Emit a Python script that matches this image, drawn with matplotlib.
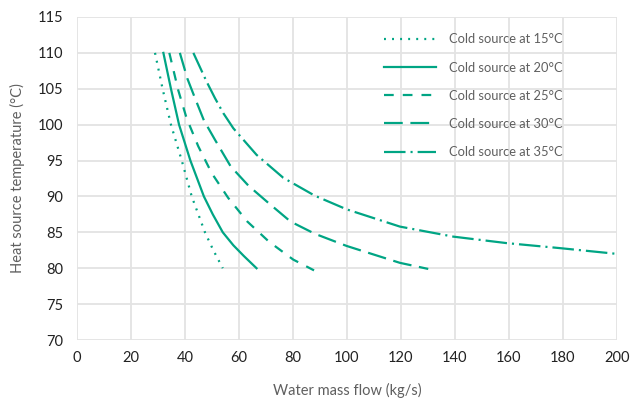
import matplotlib.pyplot as plt

plt.rcParams['font.family'] = ['Lato', 'DejaVu Sans']
plt.rcParams['lines.scale_dashes'] = False

# data
labels = ["Cold source at 15°C", "Cold source at 20°C", "Cold source at 25°C",
          "Cold source at 30°C", "Cold source at 35°C"]

flow_15 = [28.9, 31.7, 34.8, 38.8, 42.5, 47.4, 50.5, 54.0]
temp_15 = [110, 105, 100, 95, 90, 85, 82.5, 80]

flow_20 = [32.0, 34.8, 37.8, 42.0, 47.0, 50.3, 54.0, 57.9, 61.8, 66.5]
temp_20 = [110, 105, 100, 95, 90, 87.5, 85, 83.2, 81.7, 80]

flow_25 = [34.2, 37.5, 40.6, 44.9, 49.9, 56.0, 63.1, 71.1, 80.1, 87.8]
temp_25 = [110, 104.8, 100.9, 97.0, 93.25, 89.8, 86.5, 83.7, 81.2, 79.7]

flow_30 = [38.1, 40.9, 43.7, 47.0, 51.1, 56.9, 63.5, 71.2, 79.1, 88.1, 99.9, 119.6, 130.1]
temp_30 = [110, 106.4, 103.7, 100.6, 97.9, 94.2, 91.5, 89.0, 86.5, 84.8, 83.1, 80.75, 79.9]

flow_35 = [43.1, 48.0, 51.1, 54.2, 57.9, 66.5, 76.4, 88.1, 99.9,
           119.6, 139.4, 159.1, 178.9, 199.9]
temp_35 = [110, 106.0, 103.7, 101.6, 99.5, 95.8, 92.6, 90.1, 88.2,
           85.8, 84.4, 83.5, 82.8, 82.0]

series = [(flow_15, temp_15), (flow_20, temp_20), (flow_25, temp_25),
          (flow_30, temp_30), (flow_35, temp_35)]
dashes = [(1.4, 4.4), None, (7, 6.5), (13.5, 5.5), (15.5, 3.6, 1.5, 3.6)]

teal = "#00a584"
grid_c = "#e3e3e3"
txt_c = "#5f5f5f"

fig = plt.figure(figsize=(6.39, 4.0), dpi=100)
ax = fig.add_axes([0.1205, 0.15, 0.845, 0.8075])

for (x, y), lab, d in zip(series, labels, dashes):
    line, = ax.plot(x, y, color=teal, lw=1.6, label=lab)
    if d is not None:
        line.set_dashes(d)

ax.set_xlim(0, 200)
ax.set_ylim(70, 115)
ax.set_xticks(range(0, 201, 20))
ax.set_yticks(range(70, 116, 5))
ax.grid(True, color=grid_c, lw=1.3)
ax.set_axisbelow(True)
for s in ax.spines.values():
    s.set_visible(False)
ax.tick_params(length=0, labelsize=10.5, labelcolor="#222222", pad=8)
ax.tick_params(axis="y", pad=10)

ax.set_xlabel("Water mass flow (kg/s)", fontsize=10.5, color=txt_c, labelpad=13)
ax.set_ylabel("Heat source temperature (°C)", fontsize=10.5, color=txt_c, labelpad=9)

leg = ax.legend(loc="upper right", bbox_to_anchor=(0.92, 0.985), frameon=False,
                fontsize=9.3, labelspacing=1.25, handlelength=4.0, handletextpad=1.0)
for t in leg.get_texts():
    t.set_color(txt_c)

fig.savefig("out.png", dpi=100)
